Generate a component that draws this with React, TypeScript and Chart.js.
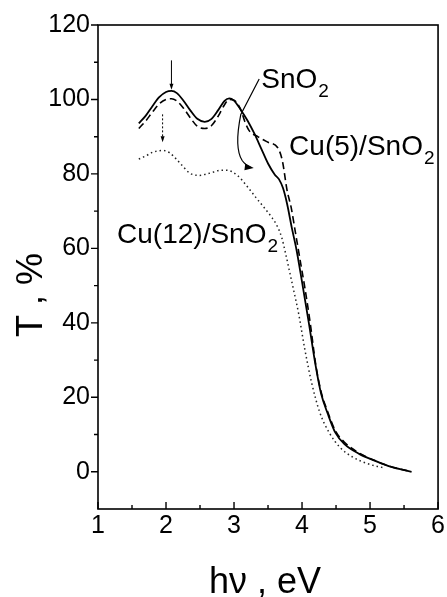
import React, { useEffect, useRef } from "react";
import { Chart, registerables } from "chart.js";

Chart.register(...registerables);

// ---- data ----
const X_TICKS = [1, 2, 3, 4, 5, 6];
const Y_TICKS = [0, 20, 40, 60, 80, 100, 120];
const X_MINOR = [1.5, 2.5, 3.5, 4.5, 5.5];
const Y_MINOR = [10, 30, 50, 70, 90, 110];

const SNO2_X = [1.6, 1.7, 1.8, 1.9, 2.0, 2.08, 2.16, 2.26, 2.36, 2.46, 2.57, 2.67, 2.77, 2.86, 2.93, 3.0, 3.1, 3.2, 3.3, 3.4, 3.5, 3.6, 3.66, 3.72, 3.78, 3.85, 3.92, 4.0, 4.1, 4.2, 4.28, 4.38, 4.49, 4.62, 4.84, 5.07, 5.3, 5.61];
const SNO2_Y = [93.6, 95.6, 98.2, 100.6, 102, 102.3, 101.7, 99.6, 97, 94.8, 94, 94.8, 97.2, 99.6, 100.3, 99.7, 97.2, 94.3, 90.8, 86.8, 82.8, 79.8, 78.6, 76.2, 72, 65.5, 59.5, 51, 40, 28.5, 21, 15.5, 10.5, 7.5, 4.8, 3, 1.4, 0];

const CU5_X = [1.6, 1.7, 1.8, 1.9, 2.0, 2.08, 2.16, 2.26, 2.36, 2.46, 2.57, 2.67, 2.77, 2.86, 2.93, 3.0, 3.1, 3.16, 3.22, 3.35, 3.5, 3.64, 3.71, 3.78, 3.84, 3.91, 3.98, 4.04, 4.12, 4.2, 4.28, 4.38, 4.49, 4.62, 4.84, 5.07, 5.3, 5.61];
const CU5_Y = [92.2, 94.2, 96.6, 98.8, 100, 100.2, 99.6, 97.6, 95, 92.8, 92.2, 93, 95.6, 98.6, 100, 99.8, 97.2, 94, 91.7, 90, 88.5, 87.1, 83.6, 75.6, 71, 63.5, 56, 49.6, 40, 29, 21.5, 16, 11, 8, 5, 3, 1.4, 0];

const CU12_X = [1.6, 1.7, 1.8, 1.95, 2.05, 2.15, 2.25, 2.35, 2.49, 2.6, 2.7, 2.8, 2.89, 3.05, 3.2, 3.32, 3.45, 3.56, 3.64, 3.7, 3.76, 3.82, 3.88, 3.95, 4.04, 4.14, 4.26, 4.4, 4.56, 4.74, 4.9, 5.07, 5.2];
const CU12_Y = [84, 84.8, 85.8, 86.3, 85.7, 84, 82, 80.2, 79.6, 80, 80.5, 81, 81, 79.6, 76.5, 73.7, 70.8, 68.2, 65.8, 63, 58.5, 53.5, 48.5, 42.5, 33, 24, 16, 10.5, 6.5, 4, 2.6, 1.6, 1.1];

const X_TITLE = "hν , eV";
const Y_TITLE = "T , %";
const LABELS = [
  { main: "SnO", sub: "2", x: 3.4, y: 103.1 },
  { main: "Cu(5)/SnO", sub: "2", x: 3.81, y: 85.1 },
  { main: "Cu(12)/SnO", sub: "2", x: 1.28, y: 61.4 },
];

const FONT = '"Liberation Sans", Arial, sans-serif';

const pts = (xs: number[], ys: number[]) => xs.map((x, i) => ({ x, y: ys[i] }));

const decor = {
  id: "decor",
  afterDraw(chart: any) {
    const { ctx, chartArea: a, scales } = chart;
    const xs = scales.x, ys = scales.y;
    const px = (v: number) => xs.getPixelForValue(v);
    const py = (v: number) => ys.getPixelForValue(v);
    ctx.save();
    ctx.strokeStyle = "#000";
    ctx.fillStyle = "#000";
    ctx.lineWidth = 1.6;
    ctx.setLineDash([]);
    ctx.strokeRect(a.left, a.top, a.right - a.left, a.bottom - a.top);
    ctx.lineWidth = 1.4;
    ctx.beginPath();
    X_TICKS.forEach((v) => { const p = px(v); ctx.moveTo(p, a.bottom); ctx.lineTo(p, a.bottom - 7); });
    X_MINOR.forEach((v) => { const p = px(v); ctx.moveTo(p, a.bottom); ctx.lineTo(p, a.bottom - 4); });
    Y_TICKS.forEach((v) => { const p = py(v); ctx.moveTo(a.left, p); ctx.lineTo(a.left - 7, p); });
    Y_MINOR.forEach((v) => { const p = py(v); ctx.moveTo(a.left, p); ctx.lineTo(a.left - 4, p); });
    ctx.stroke();

    // arrows
    const head = (x: number, y: number, ang: number, len: number, w: number) => {
      ctx.beginPath();
      ctx.moveTo(x, y);
      ctx.lineTo(x - len * Math.cos(ang) + w * Math.sin(ang), y - len * Math.sin(ang) - w * Math.cos(ang));
      ctx.lineTo(x - len * Math.cos(ang) - w * Math.sin(ang), y - len * Math.sin(ang) + w * Math.cos(ang));
      ctx.closePath();
      ctx.fill();
    };
    ctx.lineWidth = 1;
    ctx.beginPath();
    ctx.moveTo(px(2.08), py(110.5));
    ctx.lineTo(px(2.08), py(103.2));
    ctx.stroke();
    head(px(2.08), py(102.6), Math.PI / 2, 6, 2);
    ctx.setLineDash([2, 2]);
    ctx.beginPath();
    ctx.moveTo(px(1.95), py(96));
    ctx.lineTo(px(1.95), py(89.2));
    ctx.stroke();
    ctx.setLineDash([]);
    head(px(1.95), py(88.5), Math.PI / 2, 6, 2);

    ctx.lineWidth = 1.2;
    ctx.beginPath();
    ctx.moveTo(px(3.37), py(105.5));
    ctx.lineTo(px(3.1), py(96));
    ctx.quadraticCurveTo(px(3.0), py(87), px(3.12), py(83.6));
    ctx.quadraticCurveTo(px(3.17), py(82.3), px(3.24), py(81.9));
    ctx.stroke();
    head(px(3.29), py(81.6), 0.12, 9, 3.5);

    // series labels
    LABELS.forEach((l) => {
      ctx.font = `28px ${FONT}`;
      ctx.textAlign = "left";
      ctx.textBaseline = "alphabetic";
      const x = px(l.x), y = py(l.y);
      ctx.fillText(l.main, x, y);
      const w = ctx.measureText(l.main).width;
      ctx.font = `19px ${FONT}`;
      ctx.fillText(l.sub, x + w + 1, y + 9);
    });

    // axis titles
    ctx.font = `36px ${FONT}`;
    ctx.textAlign = "center";
    ctx.textBaseline = "alphabetic";
    ctx.fillText(X_TITLE, (a.left + a.right) / 2 - 3, 593);
    ctx.translate(42, 295);
    ctx.rotate(-Math.PI / 2);
    ctx.fillText(Y_TITLE, 0, 0);
    ctx.restore();
  },
};

export default function App() {
  const ref = useRef<HTMLCanvasElement>(null);
  useEffect(() => {
    if (!ref.current) return;
    const chart = new Chart(ref.current, {
      type: "line",
      data: {
        datasets: [
          { label: "SnO2", data: pts(SNO2_X, SNO2_Y), borderColor: "#000", borderWidth: 1.8, pointRadius: 0, cubicInterpolationMode: "monotone", fill: false },
          { label: "Cu(5)/SnO2", data: pts(CU5_X, CU5_Y), borderColor: "#000", borderWidth: 1.6, borderDash: [7, 4], pointRadius: 0, cubicInterpolationMode: "monotone", fill: false },
          { label: "Cu(12)/SnO2", data: pts(CU12_X, CU12_Y), borderColor: "#222", borderWidth: 1.5, borderDash: [1.5, 3], pointRadius: 0, cubicInterpolationMode: "monotone", fill: false },
        ],
      },
      options: {
        responsive: false,
        maintainAspectRatio: false,
        animation: false,
        layout: { padding: { left: 0, right: 8, top: 25, bottom: 0 } },
        plugins: { legend: { display: false }, tooltip: { enabled: false } },
        scales: {
          x: {
            type: "linear",
            min: 1,
            max: 6,
            grid: { display: false, drawTicks: false },
            border: { display: false },
            ticks: { stepSize: 1, padding: 2, color: "#000", font: { family: FONT, size: 25 } },
            afterBuildTicks: (s: any) => { s.ticks = X_TICKS.map((v) => ({ value: v })); },
            afterFit: (s: any) => { s.height = 88; },
          },
          y: {
            type: "linear",
            min: -10,
            max: 120,
            grid: { display: false, drawTicks: false },
            border: { display: false },
            ticks: { padding: 8, color: "#000", font: { family: FONT, size: 25 } },
            afterBuildTicks: (s: any) => { s.ticks = Y_TICKS.map((v) => ({ value: v })); },
            afterFit: (s: any) => { s.width = 98; },
          },
        },
      },
      plugins: [decor],
    });
    return () => chart.destroy();
  }, []);
  return (
    <div style={{ position: "absolute", left: 0, top: 0, width: 447, height: 597, background: "#fff" }}>
      <canvas ref={ref} width={447} height={597} style={{ display: "block" }} />
    </div>
  );
}
